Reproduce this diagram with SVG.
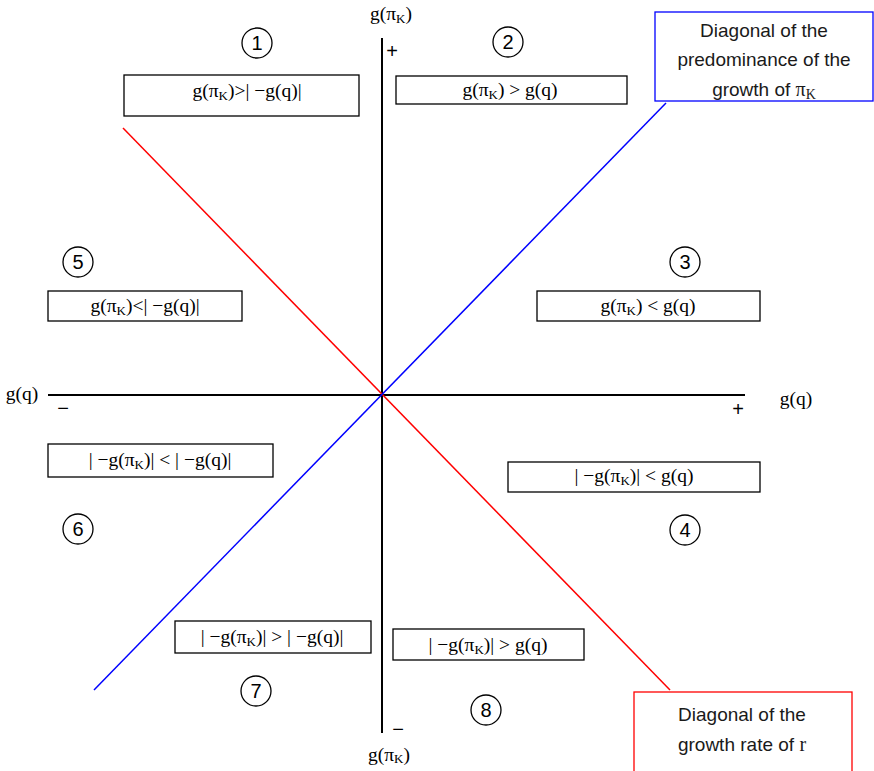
<svg xmlns="http://www.w3.org/2000/svg" width="874" height="771" viewBox="0 0 874 771">
<style>
.box{fill:#fff;stroke:#000;stroke-width:1.3}
.m{font-family:"Liberation Serif","DejaVu Serif",serif;font-size:19.5px;fill:#000;text-anchor:middle}
.sub{font-size:13px}
.num{font-family:"Liberation Sans",Arial,sans-serif;font-size:20px;text-anchor:middle;fill:#000}
.circ{fill:none;stroke:#000;stroke-width:1.3}
.lab{font-family:"Liberation Sans",Arial,sans-serif;font-size:19px;text-anchor:middle;fill:#1a1a1a}
.ax{stroke:#000;stroke-width:2}
</style>
<rect width="874" height="771" fill="#fff"/>
<g id="connectors">
<line class="ax" x1="382" y1="38" x2="382" y2="733"/>
<line class="ax" x1="48" y1="395" x2="745" y2="395" stroke-width="1.6"/>
<line x1="123" y1="128" x2="670" y2="690" stroke="#f00" stroke-width="1.5"/>
<line x1="94" y1="690" x2="666" y2="103" stroke="#00f" stroke-width="1.5"/>
</g>
<g id="axis-labels">
<text class="m" x="391" y="20">g(π<tspan class="sub" dy="3">K</tspan><tspan dy="-3">)</tspan></text>
<text class="m" x="389" y="761">g(π<tspan class="sub" dy="2">K</tspan><tspan dy="-2">)</tspan></text>
<text class="m" x="22" y="400">g(q)</text>
<text class="m" x="796" y="405">g(q)</text>
<text class="num" x="392" y="58" font-size="17">+</text>
<text class="num" x="398" y="736" font-size="17">−</text>
<text class="num" x="63" y="415" font-size="17">−</text>
<text class="num" x="738" y="416" font-size="17">+</text>
</g>
<g id="n1"><circle class="circ" cx="257" cy="43" r="15"/><text class="num" x="257" y="50">1</text>
<rect class="box" x="124" y="75" width="235" height="41"/>
<text class="m" x="247" y="97">g(π<tspan class="sub" dy="3">K</tspan><tspan dy="-3">)&gt;| −g(q)|</tspan></text></g>
<g id="n2"><circle class="circ" cx="508" cy="42" r="15"/><text class="num" x="508" y="49">2</text>
<rect class="box" x="396" y="76" width="231" height="28"/>
<text class="m" x="510" y="96">g(π<tspan class="sub" dy="3">K</tspan><tspan dy="-3">) &gt; g(q)</tspan></text></g>
<g id="n3"><circle class="circ" cx="685" cy="262" r="15"/><text class="num" x="685" y="269">3</text>
<rect class="box" x="537" y="291" width="223" height="30"/>
<text class="m" x="648" y="312">g(π<tspan class="sub" dy="3">K</tspan><tspan dy="-3">) &lt; g(q)</tspan></text></g>
<g id="n4"><circle class="circ" cx="685" cy="530" r="15"/><text class="num" x="685" y="537">4</text>
<rect class="box" x="508" y="462" width="252" height="30"/>
<text class="m" x="634" y="482">| −g(π<tspan class="sub" dy="3">K</tspan><tspan dy="-3">)| &lt; g(q)</tspan></text></g>
<g id="n5"><circle class="circ" cx="78" cy="262" r="15"/><text class="num" x="78" y="269">5</text>
<rect class="box" x="48" y="291" width="194" height="30"/>
<text class="m" x="145" y="312">g(π<tspan class="sub" dy="3">K</tspan><tspan dy="-3">)&lt;| −g(q)|</tspan></text></g>
<g id="n6"><circle class="circ" cx="78" cy="529" r="15"/><text class="num" x="78" y="536">6</text>
<rect class="box" x="48" y="444" width="225" height="33"/>
<text class="m" x="160" y="466">| −g(π<tspan class="sub" dy="3">K</tspan><tspan dy="-3">)| &lt; | −g(q)|</tspan></text></g>
<g id="n7"><circle class="circ" cx="256" cy="691" r="15"/><text class="num" x="256" y="698">7</text>
<rect class="box" x="175" y="621" width="196" height="32"/>
<text class="m" x="272" y="643">| −g(π<tspan class="sub" dy="3">K</tspan><tspan dy="-3">)|  &gt; | −g(q)|</tspan></text></g>
<g id="n8"><circle class="circ" cx="486" cy="710" r="15"/><text class="num" x="486" y="717">8</text>
<rect class="box" x="393" y="629" width="191" height="31"/>
<text class="m" x="488" y="651">| −g(π<tspan class="sub" dy="3">K</tspan><tspan dy="-3">)|  &gt; g(q)</tspan></text></g>
<g id="blue-label">
<rect x="655" y="12" width="218" height="89" fill="#fff" stroke="#00f" stroke-width="1.3"/>
<text class="lab" x="764" y="37">Diagonal of the</text>
<text class="lab" x="764" y="66">predominance of the</text>
<text class="lab" x="764" y="96">growth of <tspan font-family="Liberation Serif,serif" font-size="20">π<tspan font-size="14" dy="3">K</tspan></tspan></text>
</g>
<g id="red-label">
<rect x="634" y="692" width="218" height="90" fill="#fff" stroke="#f00" stroke-width="1.3"/>
<text class="lab" x="742" y="721">Diagonal of the</text>
<text class="lab" x="742" y="751">growth rate of <tspan font-family="Liberation Serif,serif" font-size="20">r</tspan></text>
</g>
</svg>
